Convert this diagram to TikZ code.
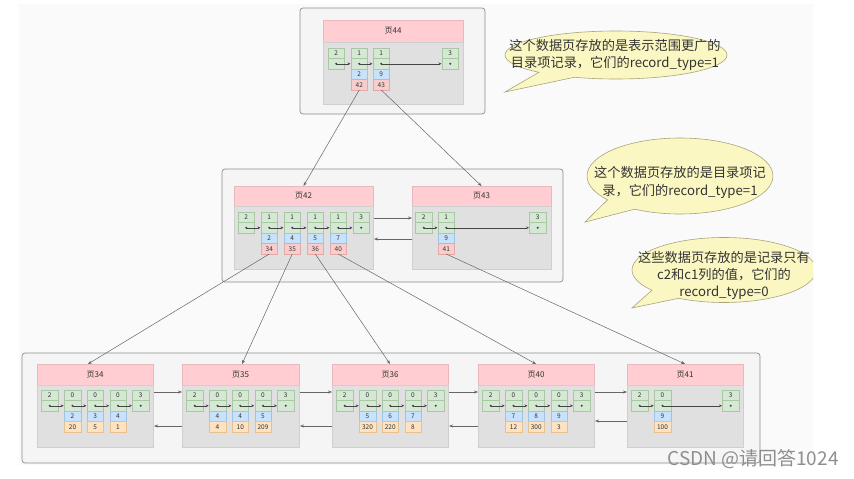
\documentclass[tikz,border=0pt]{standalone}
\usepackage{fontspec}
\setmainfont{Noto Sans CJK SC}
\usetikzlibrary{arrows.meta,shapes.callouts,calc}
\definecolor{bgc}{HTML}{FAFAFA}
\definecolor{contfill}{HTML}{F5F5F5}
\definecolor{contdraw}{HTML}{8C8C8C}
\definecolor{hfill}{HTML}{FFCDD2}
\definecolor{hdraw}{HTML}{E8B8BE}
\definecolor{pfill}{HTML}{E0E0E0}
\definecolor{pdraw}{HTML}{CFCFCF}
\definecolor{gfill}{HTML}{D5E8D4}
\definecolor{gdraw}{HTML}{A8C8A4}
\definecolor{bfill}{HTML}{C9E2FB}
\definecolor{bdraw}{HTML}{9CC4EA}
\definecolor{rfill}{HTML}{F8CECC}
\definecolor{rdraw}{HTML}{E6A8A6}
\definecolor{ofill}{HTML}{FFE2C0}
\definecolor{odraw}{HTML}{E6C08F}
\definecolor{txt}{HTML}{333333}
\definecolor{lc}{HTML}{444444}
\definecolor{lc2}{HTML}{666666}
\definecolor{cfill}{HTML}{FBF7C2}
\definecolor{cdraw}{HTML}{A8A47C}
\definecolor{wm}{HTML}{8E8E8E}
\tikzset{
  cellbase/.style={draw, line width=0.5pt, minimum width=16.5pt, minimum height=10.5pt,
    inner sep=0pt, outer sep=0pt, font=\fontsize{6.5}{7}\selectfont, text=txt},
  gtop/.style={cellbase, fill=gfill, draw=gdraw},
  kcell/.style={cellbase, fill=bfill, draw=bdraw},
  pv/.style={cellbase, fill=rfill, draw=rdraw},
  ov/.style={cellbase, fill=ofill, draw=odraw},
  recdot/.style={circle, fill=lc, draw=none, inner sep=0pt, minimum size=2.3pt},
  hdr/.style={draw=hdraw, fill=hfill, line width=0.6pt, inner sep=0pt, outer sep=0pt,
    font=\fontsize{8}{9}\selectfont, text=txt},
  pbody/.style={draw=pdraw, fill=pfill, line width=0.6pt, inner sep=0pt, outer sep=0pt},
  cont/.style={draw=contdraw, fill=contfill, rounded corners=3pt, line width=0.7pt,
    inner sep=0pt, outer sep=0pt},
  rarrow/.style={draw=lc, line width=0.5pt, -{Stealth[length=3pt,width=2.6pt]}},
  conn/.style={draw=lc2, line width=0.5pt, -{Stealth[length=4pt,width=3pt]}},
  bubble/.style={ellipse callout, draw=cdraw, fill=cfill, line width=0.6pt,
    inner sep=0pt, callout pointer arc=22},
  btext/.style={align=center, text=txt, font=\fontsize{13.2}{16.5}\selectfont, inner sep=0pt},
}
\newcommand\grec[4]{%
  \node[gtop, anchor=north west] (#1t) at (#2,#3) {#4};
  \node[gtop, anchor=north] (#1b) at (#1t.south) {};
  \node[recdot] (#1d) at (#1b.center) {};
}
\newcommand\reckv[4]{%
  \node[kcell, anchor=north] (#1k) at (#1b.south) {#2};
  \node[#4, anchor=north] (#1v) at (#1k.south) {#3};
}
\newcommand\lnk[2]{\draw[rarrow] (#1d.center) -- ([xshift=-0.5pt]#2b.west);}
\newcommand\mkpage[7]{%
  \node[hdr, anchor=north west, minimum width=#4pt, minimum height=#5pt] (#1h) at (#2,#3) {#7};
  \node[pbody, anchor=north, minimum width=#4pt, minimum height=#6pt] (#1) at (#1h.south) {};
}
\begin{document}
\begin{tikzpicture}[x=1pt,y=-1pt]
\useasboundingbox (0,0) rectangle (854,479);
\fill[bgc] (19,4) rectangle (813,465);

% containers
\node[cont, anchor=north west, minimum width=185pt, minimum height=106pt] (ctop) at (300,8) {};
\node[cont, anchor=north west, minimum width=341pt, minimum height=113pt] (cmid) at (222,169) {};
\node[cont, anchor=north west, minimum width=738pt, minimum height=110pt] (cbot) at (22,353) {};

% ---------- page 44 ----------
\mkpage{p44}{323}{20}{140}{22}{62}{页44}
\grec{p44r1}{328}{48}{2}
\grec{p44r2}{351}{48}{1}
\grec{p44r3}{373}{48}{1}
\grec{p44r4}{442}{48}{3}
\reckv{p44r2}{2}{42}{pv}
\reckv{p44r3}{9}{43}{pv}
\lnk{p44r1}{p44r2}\lnk{p44r2}{p44r3}\lnk{p44r3}{p44r4}

% ---------- page 42 ----------
\mkpage{p42}{234}{186}{139}{20}{63}{页42}
\grec{p42r1}{238}{212}{2}
\grec{p42r2}{261}{212}{1}
\grec{p42r3}{284}{212}{1}
\grec{p42r4}{307}{212}{1}
\grec{p42r5}{330}{212}{1}
\grec{p42r6}{353}{212}{3}
\reckv{p42r2}{2}{34}{pv}
\reckv{p42r3}{4}{35}{pv}
\reckv{p42r4}{5}{36}{pv}
\reckv{p42r5}{7}{40}{pv}
\lnk{p42r1}{p42r2}\lnk{p42r2}{p42r3}\lnk{p42r3}{p42r4}\lnk{p42r4}{p42r5}\lnk{p42r5}{p42r6}

% ---------- page 43 ----------
\mkpage{p43}{412}{186}{139}{20}{63}{页43}
\grec{p43r1}{415.5}{212}{2}
\grec{p43r2}{438}{212}{1}
\grec{p43r3}{529.5}{212}{3}
\reckv{p43r2}{9}{41}{pv}
\lnk{p43r1}{p43r2}\lnk{p43r2}{p43r3}

\draw[conn] ([xshift=1pt,yshift=-12pt]p42.north east) -- ([yshift=-12pt]p43.north west);
\draw[conn] ([yshift=-33pt]p43.north west) -- ([xshift=1pt,yshift=-33pt]p42.north east);

% ---------- bottom pages ----------
\mkpage{p34}{37}{364}{116}{21}{62}{页34}
\grec{p34r1}{37+4.5}{390}{2}
\grec{p34r2}{37+27.25}{390}{0}
\grec{p34r3}{37+50}{390}{0}
\grec{p34r4}{37+72.75}{390}{0}
\grec{p34r5}{37+95.5}{390}{3}
\reckv{p34r2}{2}{20}{ov}
\reckv{p34r3}{3}{5}{ov}
\reckv{p34r4}{4}{1}{ov}
\lnk{p34r1}{p34r2}\lnk{p34r2}{p34r3}\lnk{p34r3}{p34r4}\lnk{p34r4}{p34r5}

\mkpage{p35}{182}{364}{117}{21}{62}{页35}
\grec{p35r1}{182+4.5}{390}{2}
\grec{p35r2}{182+27.25}{390}{0}
\grec{p35r3}{182+50}{390}{0}
\grec{p35r4}{182+72.75}{390}{0}
\grec{p35r5}{182+95.5}{390}{3}
\reckv{p35r2}{4}{4}{ov}
\reckv{p35r3}{4}{10}{ov}
\reckv{p35r4}{5}{209}{ov}
\lnk{p35r1}{p35r2}\lnk{p35r2}{p35r3}\lnk{p35r3}{p35r4}\lnk{p35r4}{p35r5}

\mkpage{p36}{332}{364}{116}{21}{62}{页36}
\grec{p36r1}{332+4.5}{390}{2}
\grec{p36r2}{332+27.25}{390}{0}
\grec{p36r3}{332+50}{390}{0}
\grec{p36r4}{332+72.75}{390}{0}
\grec{p36r5}{332+95.5}{390}{3}
\reckv{p36r2}{5}{320}{ov}
\reckv{p36r3}{6}{220}{ov}
\reckv{p36r4}{7}{8}{ov}
\lnk{p36r1}{p36r2}\lnk{p36r2}{p36r3}\lnk{p36r3}{p36r4}\lnk{p36r4}{p36r5}

\mkpage{p40}{478}{364}{116}{21}{62}{页40}
\grec{p40r1}{478+4.5}{390}{2}
\grec{p40r2}{478+27.25}{390}{0}
\grec{p40r3}{478+50}{390}{0}
\grec{p40r4}{478+72.75}{390}{0}
\grec{p40r5}{478+95.5}{390}{3}
\reckv{p40r2}{7}{12}{ov}
\reckv{p40r3}{8}{300}{ov}
\reckv{p40r4}{9}{3}{ov}
\lnk{p40r1}{p40r2}\lnk{p40r2}{p40r3}\lnk{p40r3}{p40r4}\lnk{p40r4}{p40r5}

\mkpage{p41}{627}{364}{116}{21}{62}{页41}
\grec{p41r1}{627+4.5}{390}{2}
\grec{p41r2}{627+27.25}{390}{0}
\grec{p41r3}{627+95.5}{390}{3}
\reckv{p41r2}{9}{100}{ov}
\lnk{p41r1}{p41r2}\lnk{p41r2}{p41r3}

% page-to-page links (bottom level)
\draw[conn] ([xshift=1pt,yshift=-7pt]p34.north east) -- ([yshift=-7pt]p35.north west);
\draw[conn] ([yshift=-41pt]p35.north west) -- ([xshift=1pt,yshift=-41pt]p34.north east);
\draw[conn] ([xshift=1pt,yshift=-7pt]p35.north east) -- ([yshift=-7pt]p36.north west);
\draw[conn] ([yshift=-41pt]p36.north west) -- ([xshift=1pt,yshift=-41pt]p35.north east);
\draw[conn] ([xshift=1pt,yshift=-7pt]p36.north east) -- ([yshift=-7pt]p40.north west);
\draw[conn] ([yshift=-41pt]p40.north west) -- ([xshift=1pt,yshift=-41pt]p36.north east);
\draw[conn] ([xshift=1pt,yshift=-7pt]p40.north east) -- ([yshift=-7pt]p41.north west);
\draw[conn] ([yshift=-36pt]p41.north west) -- ([xshift=1pt,yshift=-36pt]p40.north east);

% tree connectors
\draw[conn] (p44r2v.south) -- (p42h.north);
\draw[conn] (p44r3v.south) -- (p43h.north);
\draw[conn] (p42r2v.south) -- ([xshift=-7pt]p34h.north);
\draw[conn] (p42r3v.south) -- ([xshift=1.5pt]p35h.north);
\draw[conn] (p42r4v.south) -- (p36h.north);
\draw[conn] (p42r5v.south) -- (p40h.north);
\draw[conn] (p43r2v.south) -- (p41h.north);

% callouts
\node[bubble, minimum width=222pt, minimum height=48pt, callout absolute pointer={(505,92)}] (c1) at (616,55) {};
\node[btext] (c1t) at (615,55) {这个数据页存放的是表示范围更广的\\目录项记录，它们的record\_type=1};
\node[bubble, minimum width=186pt, minimum height=76pt, callout absolute pointer={(585,222)}] (c2) at (680,176) {};
\node[btext, font=\fontsize{13.2}{18}\selectfont] (c2t) at (680,182) {这个数据页存放的是目录项记\\录，它们的record\_type=1};
\begin{scope}
\clip (0,0) rectangle (813,479);
\node[bubble, minimum width=184pt, minimum height=65pt, callout absolute pointer={(632,308)}] (c3) at (724,270) {};
\node[btext, font=\fontsize{13.2}{17}\selectfont] (c3t) at (724,275) {这些数据页存放的是记录只有\\c2和c1列的值，它们的\\record\_type=0};
\end{scope}

% watermark
\node[text=wm, font=\fontsize{19}{20}\selectfont, inner sep=0pt] (wmk) at (753,459) {CSDN @请回答1024};
\end{tikzpicture}
\end{document}
